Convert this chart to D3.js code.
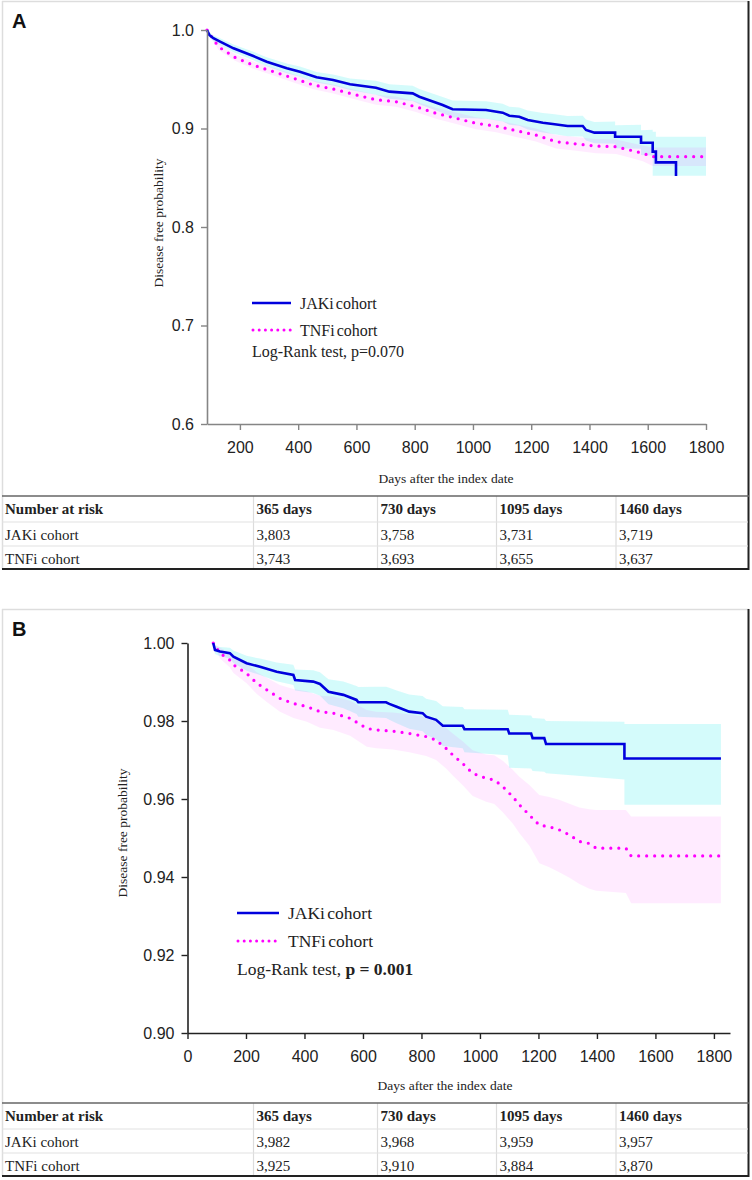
<!DOCTYPE html>
<html>
<head>
<meta charset="utf-8">
<script src="https://cdn.jsdelivr.net/npm/d3@7"></script>
<style>
  body { margin: 0; background: #fff; }
  svg { display: block; }
  .tick text { font-family: "Liberation Sans Narrow", "Arial Narrow", "Liberation Sans", Arial, sans-serif; font-size: 16px; fill: #222; }
  .serif { font-family: "Liberation Serif", "Times New Roman", serif; fill: #222; }
</style>
</head>
<body>
<script>
// points; a repeated day is a vertical drop of the step curve

// ---- panel A ----
const aJakDays = [87, 95, 109, 132, 178, 246, 292, 361, 406, 463, 520, 578, 667, 713, 793, 816, 896, 930, 1045, 1102, 1125, 1159, 1188, 1240, 1274, 1325, 1377, 1388, 1417, 1488, 1488, 1577, 1577, 1617, 1617, 1628, 1628, 1697, 1697, 1800]
const aJakSurv = [1.0000, 0.9950, 0.9916, 0.9882, 0.9814, 0.9736, 0.9678, 0.9611, 0.9577, 0.9520, 0.9492, 0.9449, 0.9414, 0.9374, 0.9357, 0.9323, 0.9239, 0.9195, 0.9188, 0.9161, 0.9130, 0.9120, 0.9086, 0.9059, 0.9046, 0.9025, 0.9025, 0.8985, 0.8958, 0.8958, 0.8917, 0.8917, 0.8856, 0.8856, 0.8765, 0.8765, 0.8656, 0.8656, 0.8518, null]
const aJakLow = [1.0000, 0.9925, 0.9885, 0.9848, 0.9775, 0.9692, 0.9632, 0.9562, 0.9525, 0.9466, 0.9436, 0.9391, 0.9342, 0.9302, 0.9280, 0.9245, 0.9158, 0.9112, 0.9100, 0.9070, 0.9038, 0.9027, 0.8990, 0.8960, 0.8945, 0.8922, 0.8920, 0.8878, 0.8850, 0.8845, 0.8800, 0.8795, 0.8730, 0.8725, 0.8520, 0.8520, 0.8520, 0.8520, 0.8520, 0.8520]
const aJakUp = [1.0000, 0.9975, 0.9947, 0.9916, 0.9853, 0.9780, 0.9724, 0.9660, 0.9629, 0.9574, 0.9548, 0.9507, 0.9486, 0.9450, 0.9434, 0.9401, 0.9320, 0.9285, 0.9276, 0.9252, 0.9222, 0.9213, 0.9182, 0.9158, 0.9147, 0.9128, 0.9130, 0.9092, 0.9066, 0.9071, 0.9034, 0.9039, 0.8982, 0.8987, 0.8968, 0.8968, 0.8917, 0.8917, 0.8917, 0.8917]

const aTnfDays = [87, 126, 183, 244, 315, 384, 452, 520, 600, 667, 736, 804, 873, 942, 1010, 1079, 1148, 1216, 1285, 1354, 1422, 1491, 1537, 1583, 1617, 1800]
const aTnfSurv = [1.0000, 0.9831, 0.9722, 0.9645, 0.9577, 0.9510, 0.9442, 0.9401, 0.9340, 0.9292, 0.9272, 0.9221, 0.9154, 0.9104, 0.9053, 0.9025, 0.8978, 0.8934, 0.8866, 0.8843, 0.8822, 0.8815, 0.8782, 0.8748, 0.8714, 0.8714]
const aTnfLow = [1.0000, 0.9800, 0.9688, 0.9608, 0.9538, 0.9468, 0.9398, 0.9355, 0.9292, 0.9242, 0.9220, 0.9167, 0.9098, 0.9046, 0.8993, 0.8963, 0.8914, 0.8868, 0.8798, 0.8773, 0.8750, 0.8741, 0.8705, 0.8668, 0.8620, 0.8620]
const aTnfUp = [1.0000, 0.9862, 0.9756, 0.9682, 0.9616, 0.9552, 0.9486, 0.9447, 0.9388, 0.9342, 0.9324, 0.9275, 0.9210, 0.9162, 0.9113, 0.9087, 0.9042, 0.9000, 0.8934, 0.8913, 0.8894, 0.8889, 0.8859, 0.8828, 0.8808, 0.8808]

const aYTicks = [0.6, 0.7, 0.8, 0.9, 1.0]
const aXTicks = [200, 400, 600, 800, 1000, 1200, 1400, 1600, 1800]
const aRiskJak = ['JAKi cohort', '3,803', '3,758', '3,731', '3,719']
const aRiskTnf = ['TNFi cohort', '3,743', '3,693', '3,655', '3,637']

// ---- panel B ----
const bJakDays = [88, 94, 111, 145, 157, 202, 248, 305, 362, 368, 430, 453, 482, 533, 578, 584, 645, 679, 690, 713, 758, 804, 816, 850, 873, 941, 947, 1095, 1100, 1175, 1180, 1220, 1226, 1494, 1494, 1824]
const bJakSurv = [1.0000, 0.9982, 0.9978, 0.9974, 0.9965, 0.9948, 0.9939, 0.9926, 0.9918, 0.9905, 0.9901, 0.9895, 0.9875, 0.9867, 0.9854, 0.9848, 0.9848, 0.9848, 0.9844, 0.9837, 0.9824, 0.9820, 0.9811, 0.9803, 0.9788, 0.9788, 0.9779, 0.9779, 0.9768, 0.9768, 0.9756, 0.9756, 0.9741, 0.9741, 0.9704, 0.9704]
const bJakLow = [1.0000, 0.9972, 0.9966, 0.9960, 0.9949, 0.9929, 0.9918, 0.9902, 0.9892, 0.9878, 0.9872, 0.9865, 0.9843, 0.9833, 0.9818, 0.9811, 0.9809, 0.9808, 0.9803, 0.9795, 0.9780, 0.9774, 0.9764, 0.9753, 0.9736, 0.9730, 0.9720, 0.9712, 0.9680, 0.9678, 0.9672, 0.9670, 0.9666, 0.9650, 0.9585, 0.9585]
const bJakUp = [1.0000, 0.9992, 0.9990, 0.9988, 0.9981, 0.9967, 0.9960, 0.9950, 0.9944, 0.9932, 0.9930, 0.9925, 0.9907, 0.9901, 0.9890, 0.9887, 0.9888, 0.9888, 0.9885, 0.9879, 0.9868, 0.9864, 0.9857, 0.9851, 0.9838, 0.9836, 0.9830, 0.9829, 0.9816, 0.9814, 0.9808, 0.9806, 0.9800, 0.9798, 0.9792, 0.9792]

const bTnfDays = [88, 111, 145, 157, 202, 237, 271, 316, 362, 408, 453, 499, 556, 613, 645, 702, 758, 816, 850, 884, 907, 941, 975, 1021, 1049, 1078, 1112, 1135, 1169, 1203, 1237, 1271, 1306, 1340, 1374, 1397, 1499, 1517, 1824]
const bTnfSurv = [1.0000, 0.9974, 0.9956, 0.9944, 0.9922, 0.9897, 0.9880, 0.9858, 0.9845, 0.9837, 0.9824, 0.9820, 0.9807, 0.9781, 0.9777, 0.9774, 0.9768, 0.9760, 0.9751, 0.9730, 0.9713, 0.9691, 0.9666, 0.9653, 0.9649, 0.9632, 0.9606, 0.9585, 0.9559, 0.9533, 0.9529, 0.9521, 0.9508, 0.9491, 0.9486, 0.9474, 0.9474, 0.9454, 0.9454]
const bTnfLow = [1.0000, 0.9960, 0.9937, 0.9923, 0.9897, 0.9869, 0.9849, 0.9824, 0.9808, 0.9798, 0.9783, 0.9777, 0.9762, 0.9734, 0.9730, 0.9727, 0.9720, 0.9710, 0.9700, 0.9678, 0.9660, 0.9635, 0.9608, 0.9593, 0.9587, 0.9566, 0.9537, 0.9512, 0.9480, 0.9435, 0.9425, 0.9412, 0.9398, 0.9382, 0.9370, 0.9365, 0.9359, 0.9333, 0.9333]
const bTnfUp = [1.0000, 0.9988, 0.9975, 0.9965, 0.9947, 0.9925, 0.9911, 0.9892, 0.9882, 0.9876, 0.9865, 0.9863, 0.9852, 0.9828, 0.9824, 0.9822, 0.9817, 0.9810, 0.9802, 0.9783, 0.9768, 0.9748, 0.9725, 0.9714, 0.9712, 0.9698, 0.9675, 0.9657, 0.9636, 0.9610, 0.9605, 0.9598, 0.9588, 0.9578, 0.9574, 0.9572, 0.9572, 0.9555, 0.9555]

const bYTicks = [0.90, 0.92, 0.94, 0.96, 0.98, 1.00]
const bXTicks = [0, 200, 400, 600, 800, 1000, 1200, 1400, 1600, 1800]
const bRiskJak = ['JAKi cohort', '3,982', '3,968', '3,959', '3,957']
const bRiskTnf = ['TNFi cohort', '3,925', '3,910', '3,884', '3,870']

const riskHeader = ['Number at risk', '365 days', '730 days', '1095 days', '1460 days']
const seriesNames = ['JAKi cohort', 'TNFi cohort']


const svg = d3.select('body').append('svg')
  .attr('width', 752)
  .attr('height', 1180)
svg.append('rect').attr('width', 752).attr('height', 1180).attr('fill', '#fff')

drawPanel({
  letter: 'A', top: 1, tableTop: 496,
  x: d3.scaleLinear([87, 1800], [207, 706]),
  y: d3.scaleLinear([0.6, 1.0], [424, 30]),
  xTicks: aXTicks, yTicks: aYTicks, yFmt: d3.format('.1f'),
  axisColor: '#858585',
  jak: zip(aJakDays, aJakSurv, aJakLow, aJakUp),
  tnf: zip(aTnfDays, aTnfSurv, aTnfLow, aTnfUp),
  yTitle: [163, 223], xTitle: [446, 483],
  legend: { x0: 252, x1: 291, y1: 303, y2: 330, tx: 300, lr: 357, size: 16 },
  pText: ['Log-Rank test, ', 'p=0.070', 'normal'],
  risk: [aRiskJak, aRiskTnf]
})

drawPanel({
  letter: 'B', top: 609, tableTop: 1103,
  x: d3.scaleLinear([0, 1855], [187.5, 730]),
  y: d3.scaleLinear([0.9, 1.0], [1033, 643]),
  xTicks: bXTicks, yTicks: bYTicks, yFmt: d3.format('.2f'),
  axisColor: '#222',
  jak: zip(bJakDays, bJakSurv, bJakLow, bJakUp),
  tnf: zip(bTnfDays, bTnfSurv, bTnfLow, bTnfUp),
  yTitle: [127, 833], xTitle: [445, 1090],
  legend: { x0: 237, x1: 279, y1: 913, y2: 941, tx: 288, lr: 975, size: 17.5 },
  pText: ['Log-Rank test, ', 'p = 0.001', 'bold'],
  risk: [bRiskJak, bRiskTnf]
})


//helpers

function zip(days, s, lo, hi) {
  return days.map((d, i) => ({ d, s: s[i], lo: lo[i], hi: hi[i] }))
}

function drawPanel(p) {
  const g = svg.append('g')
  const { x, y } = p

  // confidence bands
  const band = d3.area()
    .x((d) => x(d.d))
    .y0((d) => y(d.lo))
    .y1((d) => y(d.hi))
  g.append('path').attr('d', band(p.jak)).attr('fill', '#00e6e6').attr('fill-opacity', 0.17)
  g.append('path').attr('d', band(p.tnf)).attr('fill', '#ff00ff').attr('fill-opacity', 0.08)

  // curves
  const line = d3.line()
    .defined((d) => d.s != null)
    .x((d) => x(d.d))
    .y((d) => y(d.s))
  g.append('path').attr('d', line(p.tnf))
    .attr('fill', 'none').attr('stroke', '#f0f').attr('stroke-width', 3.2)
    .attr('stroke-linecap', 'round').attr('stroke-dasharray', '0 8')
  g.append('path').attr('d', line(p.jak))
    .attr('fill', 'none').attr('stroke', '#0000dd').attr('stroke-width', 2.6)

  // axes
  const y0 = y.range()[0]
  const x0 = x.range()[0]
  const xAxis = g.append('g')
    .attr('transform', `translate(0,${y0})`)
    .call(d3.axisBottom(x).tickValues(p.xTicks).tickFormat(d3.format('d')).tickSize(6).tickPadding(12).tickSizeOuter(0))
  const yAxis = g.append('g')
    .attr('transform', `translate(${x0},0)`)
    .call(d3.axisLeft(y).tickValues(p.yTicks).tickFormat(p.yFmt).tickSize(6).tickPadding(7).tickSizeOuter(0))
  ;[xAxis, yAxis].forEach((a) => {
    a.select('.domain').attr('stroke', p.axisColor).attr('stroke-width', 1.6)
    a.selectAll('.tick line').attr('stroke', p.axisColor).attr('stroke-width', 1.4)
    a.selectAll('.tick text').attr('fill', '#222')
  })

  // titles
  g.append('text').attr('class', 'serif')
    .attr('transform', `translate(${p.yTitle[0]},${p.yTitle[1]}) rotate(-90)`)
    .attr('text-anchor', 'middle').attr('font-size', 13.5)
    .text('Disease free probability')
  g.append('text').attr('class', 'serif')
    .attr('x', p.xTitle[0]).attr('y', p.xTitle[1])
    .attr('text-anchor', 'middle').attr('font-size', 13.5)
    .text('Days after the index date')

  g.append('text')
    .attr('x', 12).attr('y', p.top + 27)
    .attr('font-family', 'Liberation Sans, Arial, sans-serif')
    .attr('font-weight', 'bold').attr('font-size', 20)
    .attr('fill', '#111')
    .text(p.letter)

  // legend
  const L = p.legend
  g.append('line').attr('x1', L.x0).attr('x2', L.x1).attr('y1', L.y1).attr('y2', L.y1)
    .attr('stroke', '#0000dd').attr('stroke-width', 2.6)
  g.append('line').attr('x1', L.x0 + 1).attr('x2', L.x1).attr('y1', L.y2).attr('y2', L.y2)
    .attr('stroke', '#f0f').attr('stroke-width', 3).attr('stroke-linecap', 'round')
    .attr('stroke-dasharray', '0 6.2')
  g.selectAll('.leg').data(seriesNames).enter()
    .append('text').attr('class', 'serif')
    .attr('x', L.tx).attr('y', (d, i) => (i ? L.y2 : L.y1) + 6)
    .attr('font-size', L.size).attr('word-spacing', -2)
    .text((d) => d)
  const lr = g.append('text').attr('class', 'serif')
    .attr('x', L.x0).attr('y', L.lr).attr('font-size', L.size)
  lr.append('tspan').text(p.pText[0])
  lr.append('tspan').attr('font-weight', p.pText[2]).text(p.pText[1])

  // frame
  const tBot = p.tableTop + 73
  g.append('line').attr('x1', 2).attr('x2', 749).attr('y1', p.top + 0.5).attr('y2', p.top + 0.5)
    .attr('stroke', '#ddd').attr('stroke-width', 1.5)
  g.append('line').attr('x1', 2.5).attr('x2', 2.5).attr('y1', p.top).attr('y2', tBot)
    .attr('stroke', '#ddd').attr('stroke-width', 1.5)
  g.append('line').attr('x1', 748.5).attr('x2', 748.5).attr('y1', p.top).attr('y2', tBot + 1)
    .attr('stroke', '#222').attr('stroke-width', 2)

  // number at risk table
  const colX = [2, 253.5, 377.5, 496.5, 616]
  const rowTop = [p.tableTop, p.tableTop + 26, p.tableTop + 50]
  const rows = [riskHeader].concat(p.risk)
  colX.slice(1).forEach((cx) => {
    g.append('line').attr('x1', cx).attr('x2', cx).attr('y1', p.tableTop).attr('y2', tBot)
      .attr('stroke', '#dcdcdc').attr('stroke-width', 1.2)
  })
  rowTop.slice(1).forEach((ry) => {
    g.append('line').attr('x1', 2).attr('x2', 748).attr('y1', ry).attr('y2', ry)
      .attr('stroke', '#e2e2e2').attr('stroke-width', 1.2)
  })
  g.append('line').attr('x1', 2).attr('x2', 749).attr('y1', p.tableTop).attr('y2', p.tableTop)
    .attr('stroke', '#666').attr('stroke-width', 1.6)
  g.append('line').attr('x1', 2).attr('x2', 749).attr('y1', tBot).attr('y2', tBot)
    .attr('stroke', '#222').attr('stroke-width', 2.2)

  rows.forEach((r, ri) => {
    r.forEach((cell, ci) => {
      g.append('text').attr('class', 'serif')
        .attr('x', colX[ci] + 3)
        .attr('y', rowTop[ri] + 18)
        .attr('font-size', 15)
        .attr('font-weight', ri === 0 ? 'bold' : 'normal')
        .text(cell)
    })
  })
}
</script>
</body>
</html>
